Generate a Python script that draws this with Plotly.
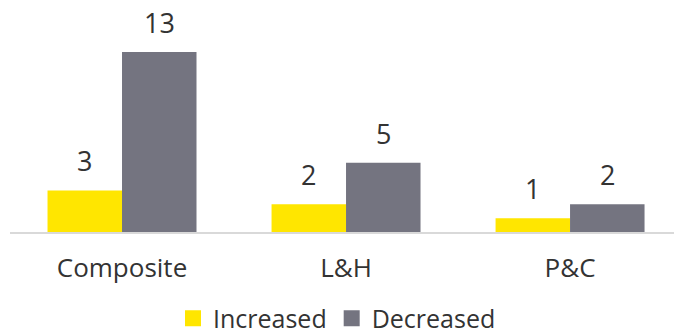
import plotly.graph_objects as go

categories = ["Composite", "L&H", "P&C"]
increased = [3, 2, 1]
decreased = [13, 5, 2]
series_names = ["Increased", "Decreased"]
colors = ["#FFE600", "#747480"]
text_color = "#333333"
font_family = "Open Sans, sans-serif"

fig = go.Figure()
for name, vals, col in zip(series_names, [increased, decreased], colors):
    fig.add_trace(go.Bar(x=categories, y=vals, name=name, marker_color=col,
                         marker_line_width=0, showlegend=False, legendgroup=name))
# legend entries with larger square swatches
for name, col in zip(series_names, colors):
    fig.add_trace(go.Scatter(x=[None], y=[None], mode="markers", name=name,
                             legendgroup=name,
                             marker=dict(symbol="square", size=16, color=col)))

bar_px = 74.5
for i, vals in enumerate([increased, decreased]):
    for c, v in zip(categories, vals):
        fig.add_annotation(x=c, y=v, text=str(v), showarrow=False,
                           xshift=(i - 0.5) * bar_px, yanchor="bottom", yshift=9,
                           font=dict(size=27, color=text_color, family=font_family))

fig.update_layout(
    width=674, height=335,
    margin=dict(l=10, r=0, t=10, b=103, autoexpand=False),
    paper_bgcolor="white", plot_bgcolor="white",
    barmode="group", bargap=0.335, bargroupgap=0,
    font=dict(family=font_family, size=25, color=text_color),
    showlegend=True,
    legend=dict(orientation="h", xref="container", yref="paper",
                x=0.5, xanchor="center", y=-0.39, yanchor="middle",
                font=dict(size=25, color=text_color), itemwidth=30,
                traceorder="normal"),
)
fig.update_xaxes(range=[-0.5, 2.464], showline=True, linecolor="#d9d9d9", linewidth=2,
                 showgrid=False, ticks="", ticklabelstandoff=12,
                 tickfont=dict(size=26, color=text_color))
fig.update_yaxes(range=[0, 16.03], showgrid=False, zeroline=False, showticklabels=False,
                 showline=False)

fig.write_html("out.html")
